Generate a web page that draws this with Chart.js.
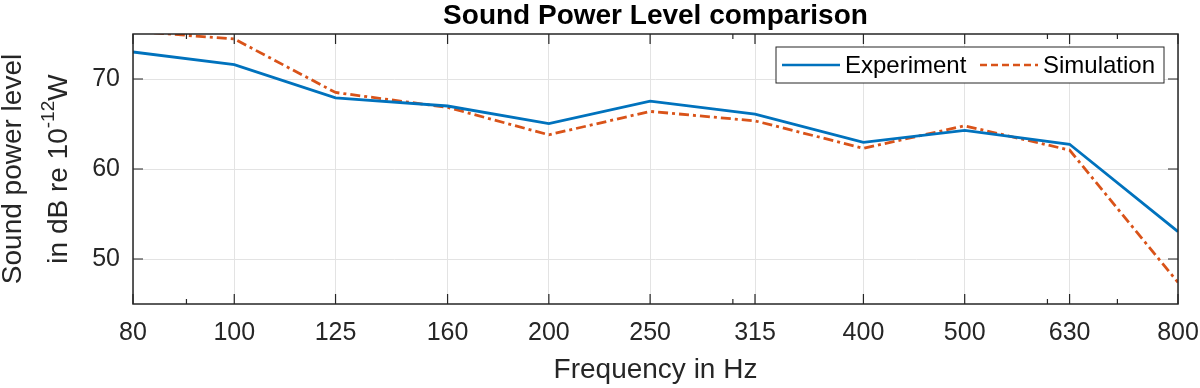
<!DOCTYPE html>
<html>
<head>
<meta charset="utf-8">
<script src="https://cdn.jsdelivr.net/npm/chart.js@4.4.1/dist/chart.umd.min.js"></script>
<style>
  body { margin: 0; background: #fff; }
  #wrap { width: 1200px; height: 388px; }
</style>
</head>
<body>
<div id="wrap"><canvas id="splChart" width="1200" height="388"></canvas></div>
<script>
// values
const frequencies = [80, 100, 125, 160, 200, 250, 315, 400, 500, 630, 800];
const experiment = [73.0, 71.6, 67.9, 67.0, 65.05, 67.55, 66.1, 62.95, 64.3, 62.75, 53.05];
const simulation = [75.3, 74.45, 68.5, 66.85, 63.8, 66.4, 65.35, 62.3, 64.8, 62.1, 47.4];
const yTicks = [50, 60, 70];
const minorFreqs = [90, 300, 600, 700];

const FONT = 'Arial, "Liberation Sans", Helvetica, sans-serif';
const BLUE = '#0072BD';
const RED = '#D95319';
const RED_DASH = [10, 4, 3, 4];

// MATLAB-like box, inner ticks, title, y label and legend
const matlabAxes = {
  id: 'matlabAxes',
  afterDraw(chart) {
    const { ctx, chartArea: { left, right, top, bottom }, scales: { x, y } } = chart;
    ctx.save();

    // inner ticks
    ctx.strokeStyle = '#262626';
    ctx.lineWidth = 1.2;
    ctx.beginPath();
    frequencies.forEach(f => {
      const px = x.getPixelForValue(f);
      ctx.moveTo(px, bottom); ctx.lineTo(px, bottom - 10);
      ctx.moveTo(px, top); ctx.lineTo(px, top + 10);
    });
    minorFreqs.forEach(f => {
      const px = x.getPixelForValue(f);
      ctx.moveTo(px, bottom); ctx.lineTo(px, bottom - 5);
      ctx.moveTo(px, top); ctx.lineTo(px, top + 5);
    });
    yTicks.forEach(v => {
      const py = y.getPixelForValue(v);
      ctx.moveTo(left, py); ctx.lineTo(left + 10, py);
      ctx.moveTo(right, py); ctx.lineTo(right - 10, py);
    });
    ctx.stroke();

    // box
    ctx.lineWidth = 1.5;
    ctx.strokeRect(left, top, right - left, bottom - top);

    // title
    ctx.fillStyle = '#000';
    ctx.font = 'bold 28px ' + FONT;
    ctx.textAlign = 'center';
    ctx.textBaseline = 'alphabetic';
    ctx.fillText('Sound Power Level comparison', (left + right) / 2, 24);

    // y axis label, two lines with superscript
    const cy = (top + bottom) / 2;
    ctx.fillStyle = '#262626';
    ctx.save();
    ctx.translate(21, cy);
    ctx.rotate(-Math.PI / 2);
    ctx.font = '28px ' + FONT;
    ctx.textAlign = 'center';
    ctx.fillText('Sound power level', 0, 0);
    ctx.restore();

    ctx.save();
    ctx.translate(67, cy);
    ctx.rotate(-Math.PI / 2);
    ctx.textAlign = 'left';
    const big = '28px ' + FONT, small = '19px ' + FONT;
    ctx.font = big; const w1 = ctx.measureText('in dB re 10').width;
    ctx.font = small; const w2 = ctx.measureText('-12').width;
    ctx.font = big; const w3 = ctx.measureText('W').width;
    let sx = -(w1 + w2 + w3) / 2;
    ctx.font = big; ctx.fillText('in dB re 10', sx, 0); sx += w1;
    ctx.font = small; ctx.fillText('-12', sx, -13); sx += w2;
    ctx.font = big; ctx.fillText('W', sx, 0);
    ctx.restore();

    // legend
    const lx = 776, ly = 47, lw = 388, lh = 36;
    ctx.fillStyle = '#fff';
    ctx.fillRect(lx, ly, lw, lh);
    ctx.strokeStyle = '#262626';
    ctx.lineWidth = 1;
    ctx.strokeRect(lx, ly, lw, lh);
    const my = ly + lh / 2;
    ctx.lineWidth = 2.5;
    ctx.strokeStyle = BLUE;
    ctx.beginPath(); ctx.moveTo(782, my); ctx.lineTo(840, my); ctx.stroke();
    ctx.strokeStyle = RED;
    ctx.setLineDash([7, 4]);
    ctx.beginPath(); ctx.moveTo(980, my); ctx.lineTo(1038, my); ctx.stroke();
    ctx.setLineDash([]);
    ctx.fillStyle = '#000';
    ctx.font = '24px ' + FONT;
    ctx.textAlign = 'left';
    ctx.textBaseline = 'middle';
    ctx.fillText('Experiment', 845, my + 1);
    ctx.fillText('Simulation', 1043, my + 1);

    ctx.restore();
  }
};

new Chart(document.getElementById('splChart'), {
  type: 'line',
  data: {
    datasets: [{
      label: 'Experiment',
      data: frequencies.map((f, i) => ({ x: f, y: experiment[i] })),
      borderColor: BLUE,
      borderWidth: 2.8,
      pointRadius: 0,
      fill: false,
      tension: 0
    }, {
      label: 'Simulation',
      data: frequencies.map((f, i) => ({ x: f, y: simulation[i] })),
      borderColor: RED,
      borderWidth: 2.8,
      borderDash: RED_DASH,
      pointRadius: 0,
      fill: false,
      tension: 0
    }]
  },
  options: {
    responsive: false,
    animation: false,
    layout: { autoPadding: false, padding: { top: 34, right: 22, left: 0, bottom: 0 } },
    plugins: { legend: { display: false }, title: { display: false }, tooltip: { enabled: false } },
    scales: {
      x: {
        type: 'logarithmic',
        min: 80,
        max: 800,
        afterBuildTicks: scale => { scale.ticks = frequencies.map(v => ({ value: v })); },
        afterFit: scale => {
          scale.height = 84;
          scale.paddingLeft = 0;
          scale.paddingRight = 0;
        },
        grid: { color: '#e3e3e3', lineWidth: 1, drawTicks: false },
        border: { display: false },
        ticks: {
          autoSkip: false,
          maxRotation: 0,
          padding: 14,
          color: '#262626',
          font: { family: FONT, size: 25 },
          callback: v => String(v)
        },
        title: {
          display: true,
          text: 'Frequency in Hz',
          color: '#262626',
          font: { family: FONT, size: 28 },
          padding: { top: 0, bottom: 1 }
        }
      },
      y: {
        min: 45,
        max: 75,
        afterBuildTicks: scale => { scale.ticks = yTicks.map(v => ({ value: v })); },
        afterFit: scale => { scale.width = 133; },
        grid: { color: '#e3e3e3', lineWidth: 1, drawTicks: false },
        border: { display: false },
        ticks: {
          padding: 13,
          color: '#262626',
          font: { family: FONT, size: 25 }
        }
      }
    }
  },
  plugins: [matlabAxes]
});
</script>
</body>
</html>
